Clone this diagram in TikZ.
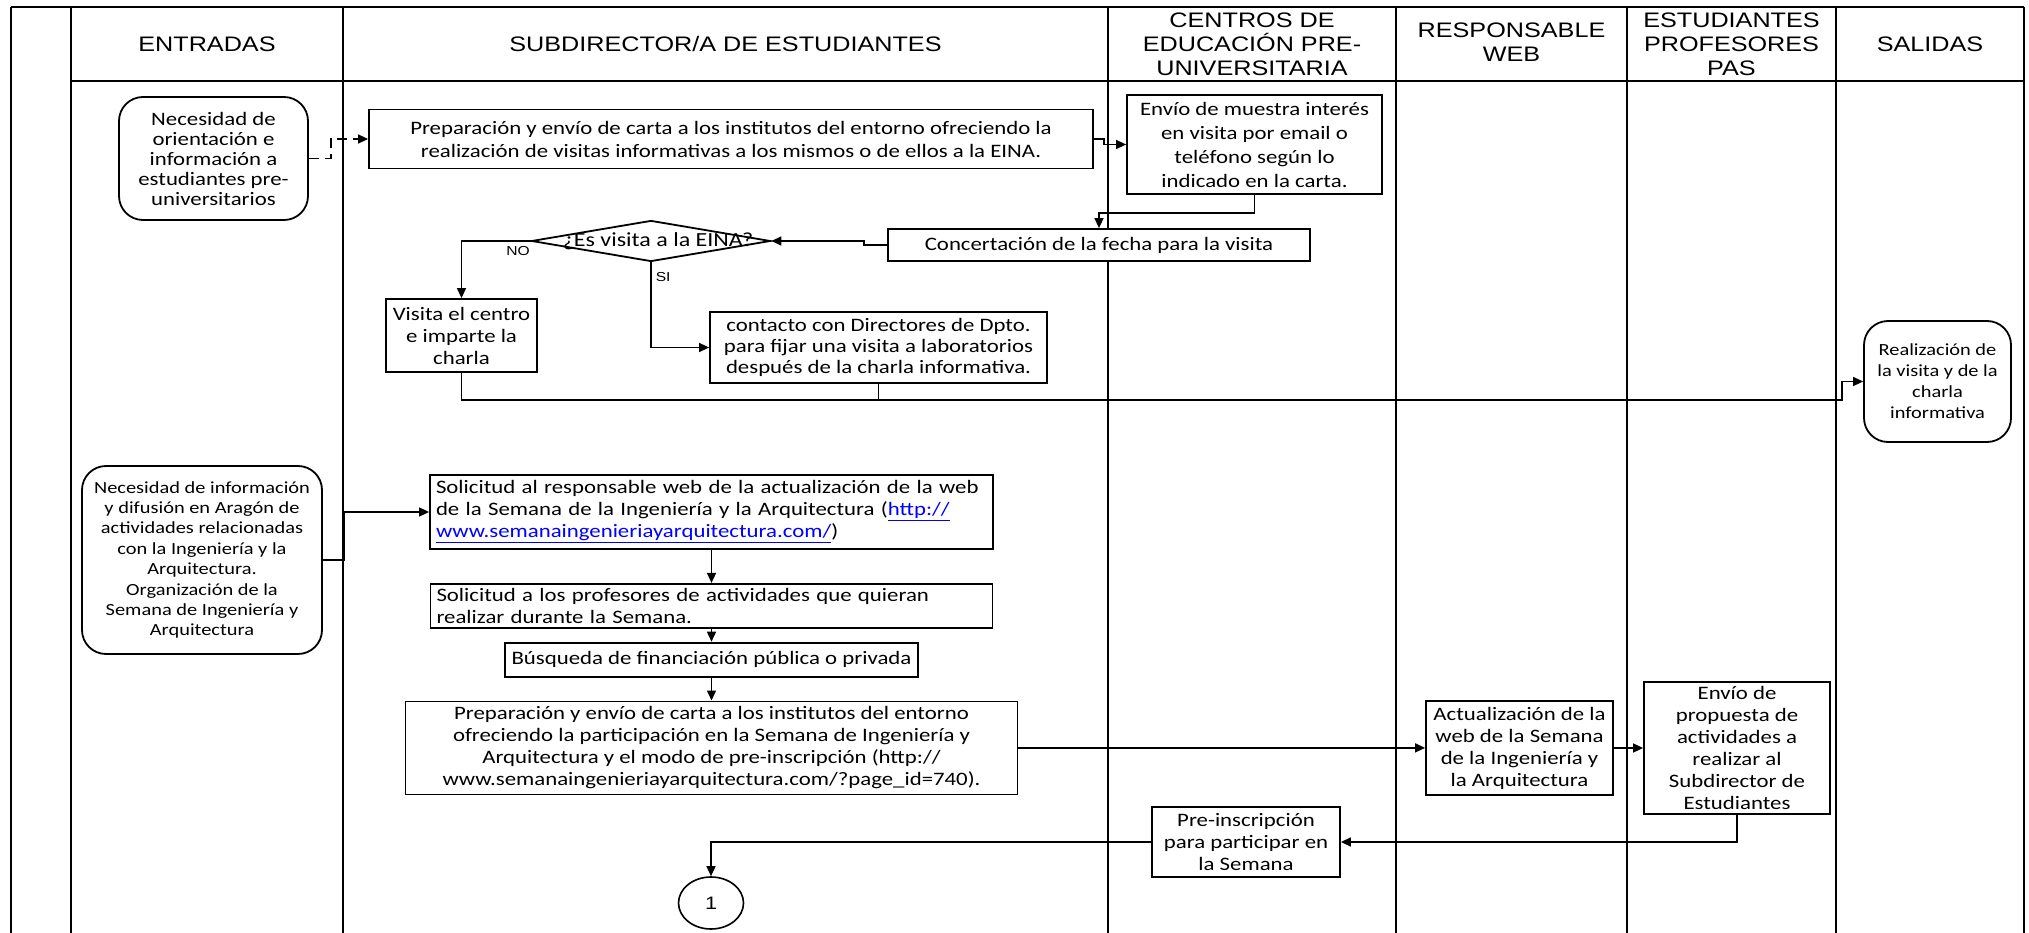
\documentclass[tikz,border=0pt]{standalone}
\usepackage{fontspec}
\setmainfont{Carlito}[FakeStretch=1.2]
\newfontfamily\hdrfont{Liberation Sans}[FakeStretch=1.2]
\usetikzlibrary{shapes.geometric, arrows.meta, positioning}
\tikzset{
  lane/.style     = {line width=1.8pt, draw=black},
  hdr/.style      = {align=center, inner sep=0pt,
                     font=\hdrfont\fontsize{21}{24}\selectfont},
  block/.style    = {rectangle, draw=black, line width=1.8pt, fill=white,
                     align=center, inner xsep=6pt, inner ysep=2pt,
                     font=\fontsize{19}{22}\selectfont},
  inout/.style    = {block, rounded corners=24pt},
  decision/.style = {diamond, draw=black, line width=1.8pt, fill=white,
                     minimum width=239pt, minimum height=41pt, inner sep=0pt},
  offpage/.style  = {ellipse, draw=black, line width=1.6pt,
                     minimum width=65pt, minimum height=52pt,
                     font=\hdrfont\fontsize{18}{22}\selectfont},
  arrow/.style    = {-{Triangle[length=10pt, width=9pt]}, line width=1.5pt, draw=black},
  link/.style     = {line width=1.5pt, draw=black},
  lbl/.style      = {inner sep=2pt, font=\hdrfont\fontsize{13}{15}\selectfont},
}
\newcommand{\weblink}[1]{\textcolor{blue}{\underline{#1}}}

\begin{document}
\begin{tikzpicture}[x=1pt, y=-1pt]
  \fill[white] (0,0) rectangle (2029,933);
  \useasboundingbox (0,0) rectangle (2029,933);

  % Lanes
  \draw[lane] (11,7) -- (2024,7);
  \draw[lane] (71,81) -- (2024,81);
  \foreach \x in {11,71,343,1108,1396,1627,1836,2024}
    \draw[lane] (\x,7) -- (\x,933);

  % Lane headers
  \node[hdr] (hin)   at (207,44)    {ENTRADAS};
  \node[hdr] (hsub)  at (725.5,44)  {SUBDIRECTOR/A DE ESTUDIANTES};
  \node[hdr] (hcen)  at (1252,44)   {CENTROS DE\\EDUCACIÓN PRE-\\UNIVERSITARIA};
  \node[hdr] (hweb)  at (1511.5,42) {RESPONSABLE\\WEB};
  \node[hdr] (hest)  at (1731.5,44) {ESTUDIANTES\\PROFESORES\\PAS};
  \node[hdr] (hout)  at (1930,44)   {SALIDAS};

  % Visits to schools
  \node[inout, minimum width=189pt, minimum height=123pt,
        font=\fontsize{19}{20}\selectfont] (nec1) at (213.5,158.5)
        {Necesidad de\\orientación e\\información a\\estudiantes pre-\\universitarios};
  \node[block, minimum width=724pt, minimum height=59pt, font=\fontsize{19}{23}\selectfont]
        (prep1) at (731,139)
        {Preparación y envío de carta a los institutos del entorno ofreciendo la\\
         realización de visitas informativas a los mismos o de ellos a la EINA.};
  \node[block, minimum width=255pt, minimum height=99pt, font=\fontsize{19}{24}\selectfont]
        (envio1) at (1254.5,144.5)
        {Envío de muestra interés\\en visita por email o\\teléfono según lo\\indicado en la carta.};
  \node[block, minimum width=422pt, minimum height=32pt] (concert) at (1099,245)
        {Concertación de la fecha para la visita};
  \node[decision, label={[name=dectext, xshift=7pt, font=\fontsize{20}{22}\selectfont]center:¿Es visita a la EINA?}]
        (dec) at (651,241) {};
  \node[block, minimum width=151pt, minimum height=73pt] (visita) at (461.5,335.5)
        {Visita el centro\\e imparte la\\charla};
  \node[block, minimum width=337pt, minimum height=71pt, font=\fontsize{19}{21}\selectfont]
        (contacto) at (878.5,347.5)
        {contacto con Directores de Dpto.\\para fijar una visita a laboratorios\\después de la charla informativa.};
  \node[inout, minimum width=147pt, minimum height=121pt, font=\fontsize{17}{21}\selectfont]
        (realiz) at (1937.5,381.5)
        {Realización de\\la visita y de la\\charla\\informativa};
  \coordinate (bus) at (1842,400);

  % Semana de la Ingenieria y la Arquitectura
  \node[inout, minimum width=240pt, minimum height=188pt, font=\fontsize{17}{20.4}\selectfont]
        (nec2) at (202,560)
        {Necesidad de información\\y difusión en Aragón de\\actividades relacionadas\\con la Ingeniería y la\\
         Arquitectura.\\Organización de la\\Semana de Ingeniería y\\Arquitectura};
  \node[block, text width=551pt, align=left, minimum height=74pt] (solic1) at (711.5,512)
        {Solicitud al responsable web de la actualización de la web\\
         de la Semana de la Ingeniería y la Arquitectura (\weblink{http://}\\
         \weblink{www.semanaingenieriayarquitectura.com/})};
  \node[block, text width=550pt, align=left, minimum height=44pt, below=33pt of solic1] (solic2)
        {Solicitud a los profesores de actividades que quieran\\realizar durante la Semana.};
  \node[block, minimum width=413pt, minimum height=34pt, below=13pt of solic2] (busq)
        {Búsqueda de financiación pública o privada};
  \node[block, minimum width=612pt, minimum height=93pt, below=23pt of busq] (prep2)
        {Preparación y envío de carta a los institutos del entorno\\
         ofreciendo la participación en la Semana de Ingeniería y\\
         Arquitectura y el modo de pre-inscripción (http://\\
         www.semanaingenieriayarquitectura.com/?page\_id=740).};
  \node[block, minimum width=187pt, minimum height=94pt] (actual) at (1519.5,748)
        {Actualización de la\\web de la Semana\\de la Ingeniería y\\la Arquitectura};
  \node[block, minimum width=186pt, minimum height=132pt] (envio2) at (1737,748)
        {Envío de\\propuesta de\\actividades a\\realizar al\\Subdirector de\\Estudiantes};
  \node[block, minimum width=188pt, minimum height=70pt] (preins) at (1246,842)
        {Pre-inscripción\\para participar en\\la Semana};
  \node[offpage] (pag1) at (711,903) {1};

  % Arrows: visits
  \draw[arrow, dash pattern=on 10pt off 6pt] (nec1.east) -- ++(22,0) |- (prep1.west);
  \draw[arrow] (prep1.east) -- ++(10,0) |- (envio1.west);
  \draw[arrow] (envio1.south) -- ++(0,18) -| (concert.north);
  \draw[arrow] (concert.west) -- ++(-23,0) |- (dec.east);
  \draw[arrow] (dec.west) -| node[lbl, pos=0.09, below=3pt] (no) {NO} (visita.north);
  \draw[arrow] (dec.south) |- node[lbl, pos=0.085, right=2pt] (si) {SI} (contacto.west);
  \draw[arrow] (visita.south) |- (bus) |- (realiz.west);
  \draw[link] (contacto.south) -- (contacto.south |- bus);

  % Arrows: Semana
  \draw[arrow] (nec2.east) -- ++(21,0) |- (solic1.west);
  \draw[arrow] (solic1) -- (solic2);
  \draw[arrow] (solic2) -- (busq);
  \draw[arrow] (busq) -- (prep2);
  \draw[arrow] (prep2.east) -- (prep2.east -| actual.west);
  \draw[arrow] (actual.east) -- (envio2.west);
  \draw[arrow] (envio2.south) |- (preins.east);
  \draw[arrow] (preins.west) -| (pag1.north);

\end{tikzpicture}
\end{document}
